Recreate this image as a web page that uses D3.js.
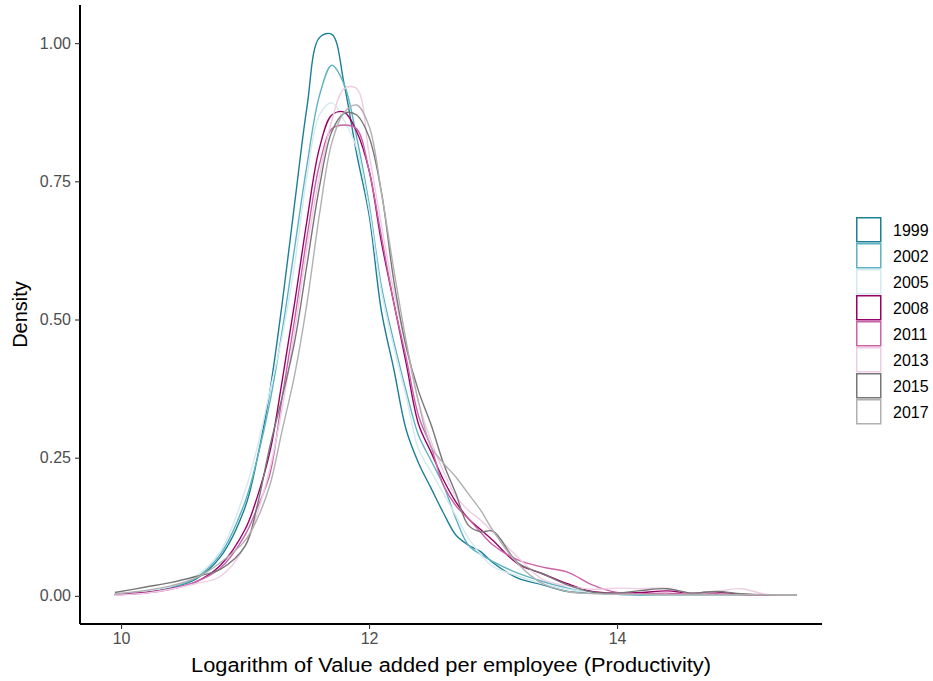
<!DOCTYPE html>
<meta charset="utf-8">
<style>
body { margin: 0; background: #fff; }
text { font-family: "Liberation Sans", Arial, sans-serif; }
.line { fill: none; stroke-width: 1.4px; }
</style>
<body>
<script src="https://cdn.jsdelivr.net/npm/d3@7"></script>
<script>

// grid of productivity values (log) where densities were read
var grid = [9.95, 10.2, 10.4, 10.6, 10.8, 11.0, 11.1, 11.2, 11.3, 11.4, 11.5, 11.6, 11.7, 11.8, 11.9,
  12.0, 12.1, 12.2, 12.3, 12.4, 12.5, 12.6, 12.7, 12.8, 12.9, 13.0, 13.2, 13.4, 13.6, 13.8,
  14.0, 14.2, 14.4, 14.6, 14.8, 15.0, 15.2, 15.45];

var years = ["1999", "2002", "2005", "2008", "2011", "2013", "2015", "2017"];
var colors = ["#1b7f96", "#5fb2c1", "#d3eaf0", "#9a006a", "#cb62a8", "#eecde4", "#777777", "#b0b0b0"];

var d1999 = [.003, .008, .015, .03, .07, .16, .25, .37, .53, .71, .885, 1.01, 1.016, .925, .80,
  .69, .515, .41, .30, .24, .195, .15, .11, .092, .08, .06, .032, .02, .008, .005,
  .003, .002, .002, .002, .002, .002, .002, .001];
var d2002 = [.002, .007, .015, .032, .075, .17, .25, .35, .48, .63, .78, .905, .96, .925, .83,
  .71, .56, .46, .37, .29, .245, .20, .14, .092, .075, .062, .041, .026, .014, .006,
  .003, .002, .002, .002, .002, .002, .002, .001];
var d2005 = [.003, .008, .017, .035, .08, .19, .27, .37, .47, .60, .76, .87, .892, .86, .81,
  .70, .55, .45, .36, .265, .225, .185, .145, .105, .075, .053, .036, .022, .012, .006,
  .003, .003, .002, .002, .002, .002, .002, .001];
var d2008 = [.002, .006, .013, .025, .055, .12, .18, .26, .39, .53, .68, .81, .87, .875, .84,
  .77, .64, .53, .42, .31, .26, .21, .17, .14, .12, .10, .058, .04, .022, .008,
  .005, .006, .009, .005, .007, .003, .002, .001];
var d2011 = [.002, .005, .012, .025, .05, .11, .16, .22, .36, .50, .65, .78, .845, .852, .845,
  .77, .65, .53, .43, .325, .27, .20, .163, .14, .115, .092, .065, .052, .043, .02,
  .006, .004, .005, .003, .004, .002, .001, .001];
var d2013 = [.001, .005, .012, .022, .035, .09, .15, .23, .34, .48, .63, .76, .86, .918, .918,
  .80, .67, .55, .45, .35, .28, .225, .18, .155, .137, .115, .07, .03, .018, .012,
  .014, .013, .014, .005, .008, .013, .003, .001];
var d2015 = [.006, .016, .024, .035, .048, .09, .165, .27, .36, .46, .60, .74, .84, .873, .87,
  .83, .73, .57, .45, .37, .31, .24, .185, .128, .116, .117, .06, .04, .02, .007,
  .005, .01, .013, .005, .008, .004, .002, .002];
var d2017 = [.004, .01, .018, .032, .06, .10, .14, .20, .30, .40, .53, .69, .82, .875, .888,
  .85, .73, .59, .46, .35, .27, .24, .215, .185, .155, .118, .058, .022, .008, .004,
  .003, .003, .002, .002, .002, .002, .002, .002];

var densities = [d1999, d2002, d2005, d2008, d2011, d2013, d2015, d2017];

var xTicks = [10, 12, 14];
var yTicks = [0, 0.25, 0.5, 0.75, 1.0];

// panel position inside the 933x681 page
var panel = {left: 80, right: 822, top: 5, bottom: 624};

var svg = d3.select("body").append("svg")
    .attr("width", 933)
    .attr("height", 681);

var x = d3.scaleLinear().domain([9.669, 15.653]).range([panel.left, panel.right]);
var y = d3.scaleLinear().domain([-0.0509, 1.069]).range([panel.bottom, panel.top]);

var line = d3.line()
    .x(function(d) { return x(d[0]); })
    .y(function(d) { return y(d[1]); })
    .curve(d3.curveCatmullRom.alpha(0.5));

// density curves, first year drawn first
years.forEach(function(yr, i) {
  var pts = grid.map(function(g, j) { return [g, densities[i][j]]; });
  svg.append("path")
      .attr("class", "line")
      .attr("stroke", colors[i])
      .attr("d", line(pts));
});

// axes
var xAxis = svg.append("g")
    .attr("transform", "translate(0," + panel.bottom + ")")
    .call(d3.axisBottom(x).tickValues(xTicks).tickSize(5).tickPadding(4).tickFormat(d3.format("d")));
var yAxis = svg.append("g")
    .attr("transform", "translate(" + panel.left + ",0)")
    .call(d3.axisLeft(y).tickValues(yTicks).tickSize(5).tickPadding(4).tickFormat(d3.format(".2f")));

[xAxis, yAxis].forEach(function(a) {
  a.select(".domain").attr("stroke", "#000").attr("stroke-width", 2);
  a.selectAll(".tick line").attr("stroke", "#333").attr("stroke-width", 1.1);
  a.selectAll(".tick text").attr("fill", "#4d4d4d").style("font-size", "16px")
      .style("font-family", "'Liberation Sans', Arial, sans-serif");
});
// extend the axis lines to the panel corner
xAxis.select(".domain").attr("d", "M" + panel.left + ",0H" + panel.right);
yAxis.select(".domain").attr("d", "M0," + panel.top + "V" + panel.bottom);

// axis titles
svg.append("text")
    .text("Logarithm of Value added per employee (Productivity)")
    .attr("x", (panel.left + panel.right) / 2)
    .attr("y", 672)
    .attr("text-anchor", "middle")
    .attr("textLength", 520)
    .attr("lengthAdjust", "spacingAndGlyphs")
    .style("font-size", "20px")
    .attr("fill", "#000");

svg.append("text")
    .text("Density")
    .attr("transform", "translate(27," + ((panel.top + panel.bottom) / 2) + ") rotate(-90)")
    .attr("text-anchor", "middle")
    .style("font-size", "20px")
    .attr("fill", "#000");

// legend
var legend = svg.append("g").attr("transform", "translate(856,217)");
years.forEach(function(yr, i) {
  var g = legend.append("g").attr("transform", "translate(0," + (i * 26) + ")");
  g.append("rect")
      .attr("x", 0.75)
      .attr("y", 0.75)
      .attr("width", 24)
      .attr("height", 24)
      .attr("fill", "#fff")
      .attr("stroke", colors[i])
      .attr("stroke-width", 1.5);
  g.append("text")
      .text(yr)
      .attr("x", 37)
      .attr("y", 13)
      .attr("dy", "0.35em")
      .style("font-size", "16px")
      .attr("fill", "#000");
});

</script>
</body>
